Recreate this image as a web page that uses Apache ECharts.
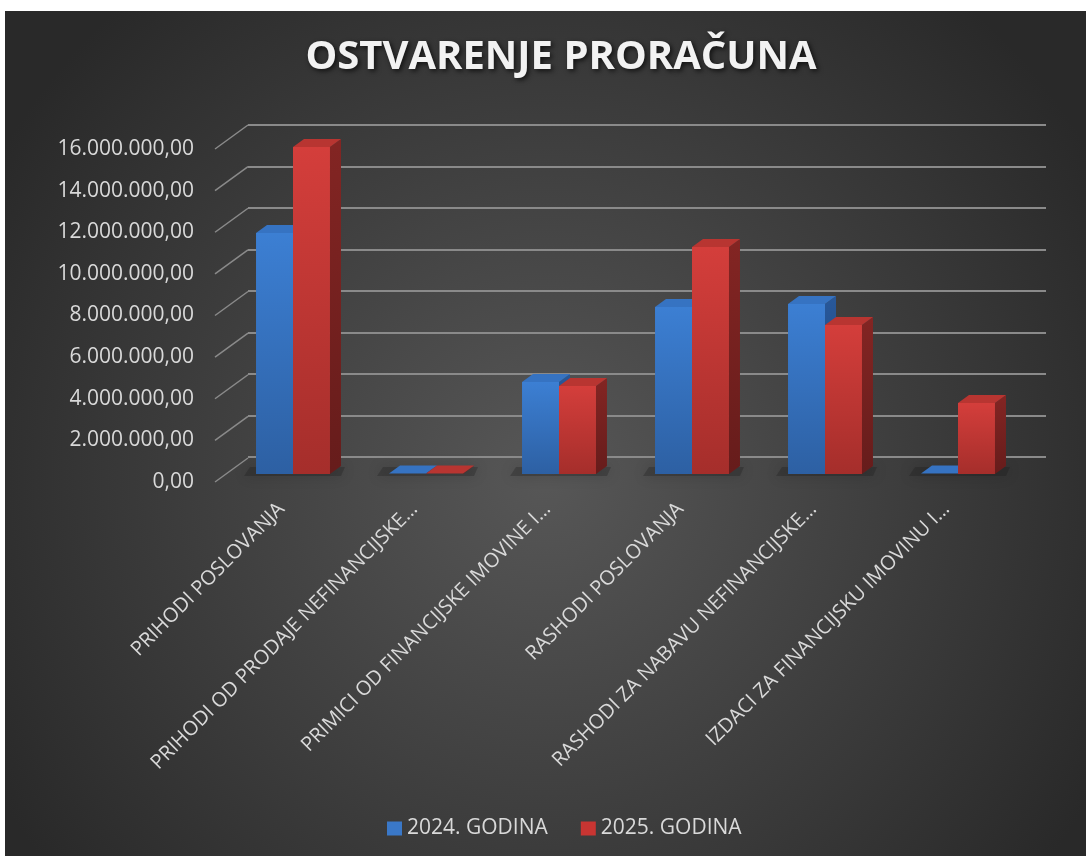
<!DOCTYPE html>
<html>
<head>
<meta charset="utf-8">
<script src="https://cdn.jsdelivr.net/npm/echarts@6/dist/echarts.min.js"></script>
<style>
html,body{margin:0;padding:0;background:#ffffff;}
#chart{position:absolute;left:5px;top:11px;width:1081px;height:845px;}
</style>
</head>
<body>
<div id="chart"></div>
<script>
const categories = ['PRIHODI POSLOVANJA','PRIHODI OD PRODAJE NEFINANCIJSKE…','PRIMICI OD FINANCIJSKE IMOVINE I…','RASHODI POSLOVANJA','RASHODI ZA NABAVU NEFINANCIJSKE…','IZDACI ZA FINANCIJSKU IMOVINU I…'];
const seriesNames = ['2024. GODINA','2025. GODINA'];
const values2024 = [11580000, 15000, 4420000, 8020000, 8170000, 20000];
const values2025 = [15710000, 10000, 4230000, 10910000, 7160000, 3410000];
const yTicks = [0, 2000000, 4000000, 6000000, 8000000, 10000000, 12000000, 14000000, 16000000];

const FONT = '"Open Sans", "DejaVu Sans", sans-serif';
const yMax = yTicks[yTicks.length-1];
const yInt = yTicks[1]-yTicks[0];

function fmt(v){
  const s = Math.round(v).toString();
  return s.replace(/\B(?=(\d{3})+(?!\d))/g,'.') + ',00';
}

const palettes = [
  {front:['#3c7fd3','#2d60a3'], side:['#28589a','#1e4273'], top:'#3673c2', legend:'#3a78c8'},
  {front:['#d43e3b','#a52e2b'], side:['#832523','#661c1b'], top:'#b83531', legend:'#c83532'}
];

const DX = 11, DY = 8;
function renderBar(params, api){
  const si = params.seriesIndex - 1; // after the diagonal series
  const idx = api.value(0), val = api.value(1);
  const base = api.coord([idx, 0]);
  const top = api.coord([idx, val]);
  const band = api.size([1, 0])[0];
  const bw = band * 0.278;
  const x0 = base[0] + (si === 0 ? -bw : 0);
  const yb = base[1], yt = Math.min(top[1], yb - 0.5);
  const p = palettes[si];
  const children = [];
  if (si === 0) {
    children.push({type:'polygon', z2:0, shape:{points:[[x0-12,yb+2],[x0+2*bw+DX,yb+2],[x0+2*bw+DX+4,yb-DY+1],[x0-6,yb-DY+1]]},
      style:{fill:'rgba(25,25,25,0.28)', shadowBlur:14, shadowColor:'rgba(0,0,0,0.55)'}});
  }
  children.push({type:'polygon', z2:1, shape:{points:[[x0+bw,yt],[x0+bw+DX,yt-DY],[x0+bw+DX,yb-DY],[x0+bw,yb]]},
    style:{fill:{type:'linear',x:0,y:0,x2:0,y2:1,colorStops:[{offset:0,color:p.side[0]},{offset:1,color:p.side[1]}]}}});
  children.push({type:'polygon', z2:2, shape:{points:[[x0,yt],[x0+DX,yt-DY],[x0+bw+DX,yt-DY],[x0+bw,yt]]},
    style:{fill:p.top}});
  if (yb - yt > 1) {
    children.push({type:'rect', z2:3, shape:{x:x0,y:yt,width:bw,height:yb-yt},
      style:{fill:{type:'linear',x:0,y:0,x2:0,y2:1,colorStops:[{offset:0,color:p.front[0]},{offset:1,color:p.front[1]}]}}});
  }
  return {type:'group', children};
}

function renderDiag(params, api){
  const v = api.value(0);
  const x = params.coordSys.x;
  const p = api.coord([0, v]);
  return {type:'line', shape:{x1:x, y1:p[1], x2:x+33, y2:p[1]-24},
    style:{stroke:'#8a8a8a', lineWidth:1.5}};
}

const chart = echarts.init(document.getElementById('chart'));
const option = {
  animation:false,
  backgroundColor:{type:'radial', x:0.5, y:0.55, r:0.75, colorStops:[{offset:0,color:'#575757'},{offset:1,color:'#292929'}]},
  textStyle:{fontFamily:FONT},
  graphic:[{type:'text', x:556, y:47, style:{text:'OSTVARENJE PRORAČUNA', fill:'#f2f2f2', font:'bold 40px '+FONT, textAlign:'center', textVerticalAlign:'middle',
    textShadowColor:'rgba(0,0,0,0.7)', textShadowBlur:5, textShadowOffsetX:2, textShadowOffsetY:2}}],
  legend:{data:seriesNames, left:377, top:802, itemWidth:15, itemHeight:14, itemGap:33, icon:'rect',
    textStyle:{color:'#d9d9d9', fontSize:21, fontFamily:FONT}},
  grid:[
    {left:210, top:138, width:798, height:333},
    {left:243, top:114, width:798, height:332},
    {left:221.5, top:130, width:798, height:333}
  ],
  xAxis:[
    {type:'category', gridIndex:0, data:categories, axisLine:{show:false}, axisTick:{show:false},
      axisLabel:{interval:0, rotate:45, margin:24, color:'#d9d9d9', fontSize:20, fontFamily:FONT}},
    {type:'category', gridIndex:1, data:categories, show:false},
    {type:'category', gridIndex:2, data:categories, show:false}
  ],
  yAxis:[
    {type:'value', gridIndex:0, min:0, max:yMax, interval:yInt, splitLine:{show:false}, axisLine:{show:false}, axisTick:{show:false},
      axisLabel:{formatter:fmt, color:'#d9d9d9', fontSize:21, margin:21, fontFamily:FONT}},
    {type:'value', gridIndex:1, min:0, max:yMax, interval:yInt, axisLabel:{show:false}, axisLine:{show:false}, axisTick:{show:false},
      splitLine:{show:true, lineStyle:{color:'#8a8a8a', width:1.8}}},
    {type:'value', gridIndex:2, min:0, max:yMax, interval:yInt, show:false, splitLine:{show:false}}
  ],
  series:[
    {type:'custom', name:'diag', xAxisIndex:0, yAxisIndex:0, renderItem:renderDiag, data:yTicks.map(v=>[v]), encode:{y:0}, silent:true, z:1},
    {type:'custom', name:seriesNames[0], xAxisIndex:2, yAxisIndex:2, renderItem:renderBar,
      data:values2024.map((v,i)=>[i,v]), encode:{x:0,y:1}, itemStyle:{color:palettes[0].legend}, z:3},
    {type:'custom', name:seriesNames[1], xAxisIndex:2, yAxisIndex:2, renderItem:renderBar,
      data:values2025.map((v,i)=>[i,v]), encode:{x:0,y:1}, itemStyle:{color:palettes[1].legend}, z:4}
  ]
};
chart.setOption(option);
</script>
</body>
</html>
